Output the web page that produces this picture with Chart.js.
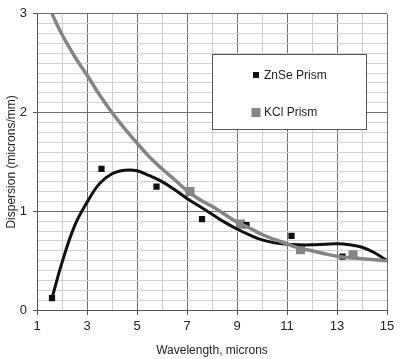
<!DOCTYPE html>
<html>
<head>
<meta charset="utf-8">
<script src="https://cdn.jsdelivr.net/npm/chart.js@4.4.0/dist/chart.umd.min.js"></script>
<style>
  html, body { margin: 0; padding: 0; background: #fff; }
</style>
</head>
<body>
<canvas id="chart" width="400" height="359"></canvas>
<script>
// smooth curves
const znseCurveX = [1.6, 2, 2.5, 3, 3.5, 4, 4.5, 5, 5.5, 6, 6.5, 7, 7.5, 8, 8.5, 9, 9.5, 10, 10.5, 11, 11.5, 12, 12.5, 13, 13.5, 14, 14.5, 15];
const znseCurveY = [0.12, 0.48, 0.85, 1.09, 1.28, 1.38, 1.415, 1.41, 1.36, 1.30, 1.22, 1.13, 1.05, 0.97, 0.89, 0.82, 0.76, 0.71, 0.68, 0.665, 0.66, 0.66, 0.665, 0.67, 0.66, 0.635, 0.58, 0.50];
const kclCurveX = [1.6, 2, 2.5, 3, 3.5, 4, 4.5, 5, 5.5, 6, 6.5, 7, 7.5, 8, 8.5, 9, 9.5, 10, 10.5, 11, 11.5, 12, 12.5, 13, 13.5, 14, 14.5, 15];
const kclCurveY = [3.0, 2.79, 2.57, 2.38, 2.18, 2.0, 1.84, 1.69, 1.55, 1.43, 1.32, 1.21, 1.12, 1.05, 0.97, 0.89, 0.83, 0.765, 0.715, 0.67, 0.625, 0.60, 0.57, 0.545, 0.53, 0.52, 0.51, 0.50];

// measured points
const znsePointX = [1.6, 3.58, 5.78, 7.6, 9.38, 11.18, 13.22];
const znsePointY = [0.12, 1.43, 1.25, 0.92, 0.86, 0.75, 0.54];
const kclPointX = [7.12, 9.14, 11.54, 13.64];
const kclPointY = [1.20, 0.87, 0.61, 0.56];

const seriesNames = ["ZnSe Prism", "KCl Prism"];
const xTicks = [1, 3, 5, 7, 9, 11, 13, 15];
const yTicks = [0, 1, 2, 3];

const toXY = (xs, ys) => xs.map((x, i) => ({ x, y: ys[i] }));
const isMajorY = v => yTicks.some(t => Math.abs(t - v) < 1e-6);
const isMajorX = v => xTicks.some(t => Math.abs(t - v) < 1e-6);

const FONT = "'Liberation Sans', Arial, sans-serif";

// legend box drawn inside the plot area
const boxLegend = {
  id: "boxLegend",
  afterDraw(chart) {
    const { ctx } = chart;
    const x0 = 212, y0 = 54, w = 154, h = 75;
    ctx.save();
    ctx.fillStyle = "#fff";
    ctx.fillRect(x0, y0, w, h);
    ctx.strokeStyle = "#555";
    ctx.lineWidth = 1;
    ctx.strokeRect(x0 + 0.5, y0 + 0.5, w, h);

    const items = [
      { ds: chart.data.datasets[2], y: 75, size: 6 },
      { ds: chart.data.datasets[3], y: 112.5, size: 9 }
    ];
    ctx.font = "12px " + FONT;
    ctx.textBaseline = "middle";
    items.forEach(it => {
      ctx.fillStyle = it.ds.backgroundColor;
      ctx.fillRect(256 - it.size / 2, it.y - it.size / 2, it.size, it.size);
      ctx.fillStyle = "#222";
      ctx.fillText(it.ds.label, 264, it.y + 0.5);
    });
    ctx.restore();
  }
};

const ctx = document.getElementById("chart").getContext("2d");
new Chart(ctx, {
  type: "scatter",
  data: {
    datasets: [
      {
        label: seriesNames[1] + " curve",
        type: "line",
        data: toXY(kclCurveX, kclCurveY),
        borderColor: "#858585",
        borderWidth: 3.5,
        pointRadius: 0,
        tension: 0.4,
        fill: false
      },
      {
        label: seriesNames[0] + " curve",
        type: "line",
        data: toXY(znseCurveX, znseCurveY),
        borderColor: "#111",
        borderWidth: 3,
        pointRadius: 0,
        tension: 0.4,
        fill: false
      },
      {
        label: seriesNames[0],
        data: toXY(znsePointX, znsePointY),
        pointStyle: "rect",
        pointRadius: 4.4,
        backgroundColor: "#111",
        borderWidth: 0
      },
      {
        label: seriesNames[1],
        data: toXY(kclPointX, kclPointY),
        pointStyle: "rect",
        pointRadius: 6.4,
        backgroundColor: "#858585",
        borderWidth: 0
      }
    ]
  },
  options: {
    responsive: false,
    animation: false,
    layout: { padding: { top: 7, right: 13, left: 0, bottom: 0 } },
    plugins: {
      legend: { display: false },
      tooltip: { enabled: false }
    },
    scales: {
      x: {
        type: "linear",
        min: 1,
        max: 15,
        afterFit: s => { s.height = 49; },
        ticks: {
          stepSize: 1,
          autoSkip: false,
          maxRotation: 0,
          padding: 4,
          color: "#222",
          font: { family: FONT, size: 13 },
          callback: v => isMajorX(v) ? v : ""
        },
        grid: {
          color: c => isMajorX(c.tick.value) ? "#6e6e6e" : "#cfcfcf",
          tickColor: c => isMajorX(c.tick.value) ? "#555" : "rgba(0,0,0,0)",
          tickLength: 5,
          lineWidth: 1
        },
        border: { color: "#555" },
        title: {
          display: true,
          text: "Wavelength, microns",
          color: "#222",
          font: { family: FONT, size: 12 },
          padding: { top: 4, bottom: 1 }
        }
      },
      y: {
        min: 0,
        max: 3,
        afterFit: s => { s.width = 37; },
        ticks: {
          stepSize: 0.1,
          autoSkip: false,
          padding: 6,
          color: "#222",
          font: { family: FONT, size: 13 },
          callback: v => isMajorY(v) ? Math.round(v) : ""
        },
        grid: {
          color: c => isMajorY(c.tick.value) ? "#6e6e6e" : "#d2d2d2",
          tickColor: c => isMajorY(c.tick.value) ? "#555" : "rgba(0,0,0,0)",
          tickLength: 4,
          lineWidth: 1
        },
        border: { color: "#555" },
        title: {
          display: true,
          text: "Dispersion (microns/mm)",
          color: "#222",
          font: { family: FONT, size: 12 },
          padding: { top: 4, bottom: 0 }
        }
      }
    }
  },
  plugins: [boxLegend]
});
</script>
</body>
</html>
